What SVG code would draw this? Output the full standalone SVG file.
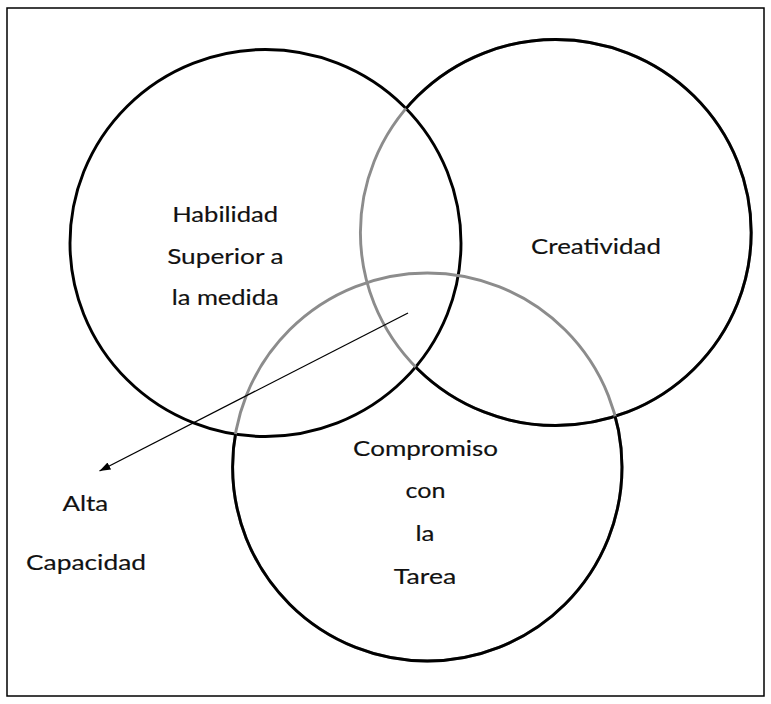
<svg xmlns="http://www.w3.org/2000/svg" width="771" height="704" viewBox="0 0 771 704">
  <style>
    .ring { fill: none; stroke-width: 2.9; }
    .dark { stroke: #000; }
    .soft { stroke: #8c8c8c; }
    .lbl { font-family: Lato, "Open Sans", "Liberation Sans", sans-serif; font-size: 20.5px; fill: #111; stroke: #111; stroke-width: 0.15px; text-anchor: middle; }
    .frame { fill: #fff; stroke: #000; stroke-width: 1.5; }
    .conn { stroke: #000; stroke-width: 1.3; fill: none; }
  </style>
  <defs>
    <marker id="arrow" markerUnits="userSpaceOnUse" markerWidth="12" markerHeight="10" refX="11" refY="4" orient="auto">
      <path d="M0,0 L11,4 L0,8 Z" fill="#000"/>
    </marker>
    <mask id="outside1" maskUnits="userSpaceOnUse" x="0" y="0" width="771" height="704">
      <rect x="0" y="0" width="771" height="704" fill="#fff"/>
      <ellipse cx="265.5" cy="243" rx="195.5" ry="193.5" fill="#000"/>
    </mask>
    <mask id="outside12" maskUnits="userSpaceOnUse" x="0" y="0" width="771" height="704">
      <rect x="0" y="0" width="771" height="704" fill="#fff"/>
      <ellipse cx="265.5" cy="243" rx="195.5" ry="193.5" fill="#000"/>
      <ellipse cx="555.8" cy="232.5" rx="195.4" ry="193" fill="#000"/>
    </mask>
  </defs>

  <rect class="frame" x="7" y="8" width="757" height="688"/>

  <g id="node-habilidad">
    <ellipse class="ring dark" cx="265.5" cy="243" rx="195.5" ry="193.5"/>
    <text class="lbl" x="225.2" y="221.5" textLength="106" lengthAdjust="spacingAndGlyphs">Habilidad</text>
    <text class="lbl" x="225.4" y="263.5" textLength="116.5" lengthAdjust="spacingAndGlyphs">Superior a</text>
    <text class="lbl" x="225.2" y="305" textLength="107" lengthAdjust="spacingAndGlyphs">la medida</text>
  </g>

  <g id="node-creatividad">
    <ellipse class="ring soft" cx="555.8" cy="232.5" rx="195.4" ry="193"/>
    <ellipse class="ring dark" cx="555.8" cy="232.5" rx="195.4" ry="193" mask="url(#outside1)"/>
    <text class="lbl" x="596" y="254" textLength="130" lengthAdjust="spacingAndGlyphs">Creatividad</text>
  </g>

  <g id="node-compromiso">
    <ellipse class="ring soft" cx="427.3" cy="467" rx="194.7" ry="194"/>
    <ellipse class="ring dark" cx="427.3" cy="467" rx="194.7" ry="194" mask="url(#outside12)"/>
    <text class="lbl" x="425.6" y="456" textLength="145" lengthAdjust="spacingAndGlyphs">Compromiso</text>
    <text class="lbl" x="425.5" y="498" textLength="40" lengthAdjust="spacingAndGlyphs">con</text>
    <text class="lbl" x="425" y="541" textLength="19" lengthAdjust="spacingAndGlyphs">la</text>
    <text class="lbl" x="425" y="583.5" textLength="62.4" lengthAdjust="spacingAndGlyphs">Tarea</text>
  </g>

  <g id="node-alta-capacidad">
    <text class="lbl" x="85.3" y="511" textLength="45.8" lengthAdjust="spacingAndGlyphs">Alta</text>
    <text class="lbl" x="86" y="570" textLength="120" lengthAdjust="spacingAndGlyphs">Capacidad</text>
  </g>

  <g id="connectors">
    <line class="conn" x1="408" y1="313" x2="99.5" y2="471" marker-end="url(#arrow)"/>
  </g>
</svg>
